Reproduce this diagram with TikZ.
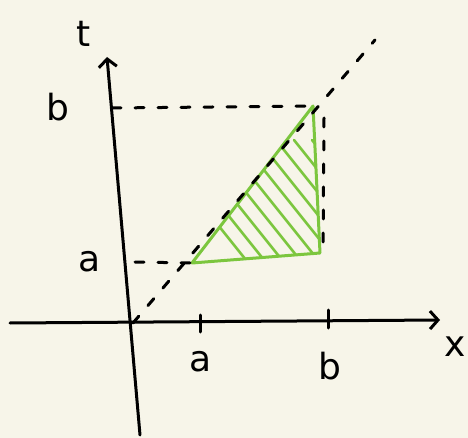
\documentclass[tikz,border=0pt]{standalone}
\usepackage{fontspec}
\setmainfont{DejaVu Sans}
\usetikzlibrary{arrows.meta}
\definecolor{paper}{HTML}{F7F5E9}
\definecolor{leaf}{HTML}{7CC63E}
\begin{document}
\begin{tikzpicture}[
            x=1pt, y=-1pt,
            line width=3pt, line cap=round,
            lbl/.style={font=\fontsize{36}{38}\selectfont},
            hatch/.style={leaf, line width=2.6pt},
            guide/.style={dash pattern=on 9pt off 14pt}
        ]
        \fill[paper] (0,0) rectangle (468,438);
        \useasboundingbox (0,0) rectangle (468,438);

        \coordinate (O) at (133,323);
        \coordinate (X0) at (10,323);
        \coordinate (X1) at (440,320);
        \coordinate (T0) at (140,435);
        \coordinate (T1) at (107,57);
        \coordinate (D1) at (375,40);
        \coordinate (P) at (192,263);
        \coordinate (Q) at (313,106);
        \coordinate (R) at (320,253);
        \coordinate (Ta) at (135,262);
        \coordinate (Tb) at (112,108);
        \coordinate (Rt) at (324,118);
        \coordinate (Rb) at (323,255);

        % hatching
        \begin{scope}
            \clip (P) -- (Q) -- (R) -- cycle;
            \foreach \k in {0,...,9}
                \draw[hatch] (150+18*\k,140) -- (250+18*\k,265);
        \end{scope}
        \draw[leaf, line width=3pt, line join=round] (P) -- (Q) -- (R) -- cycle;

        \draw[guide] (O) -- (D1);
        \draw[guide] (Tb) -- (Q);
        \draw[guide] (Ta) -- (P);
        \draw[guide] (Rt) -- (Rb);

        \draw[-{Straight Barb[length=8pt,width=18pt]}] (X0) -- (X1);
        \draw[-{Straight Barb[length=8pt,width=18pt]}] (T0) -- (T1);
        \draw (200,315) -- (200,332);
        \draw (328,310) -- (328,328);

        \node[lbl] (lt) at (84,34) {t};
        \node[lbl] (lx) at (455,347) {x};
        \node[lbl] (lxa) at (201,362) {a};
        \node[lbl] (lxb) at (330,366) {b};
        \node[lbl] (lta) at (90,262) {a};
        \node[lbl] (ltb) at (58,107) {b};
    \end{tikzpicture}
\end{document}
